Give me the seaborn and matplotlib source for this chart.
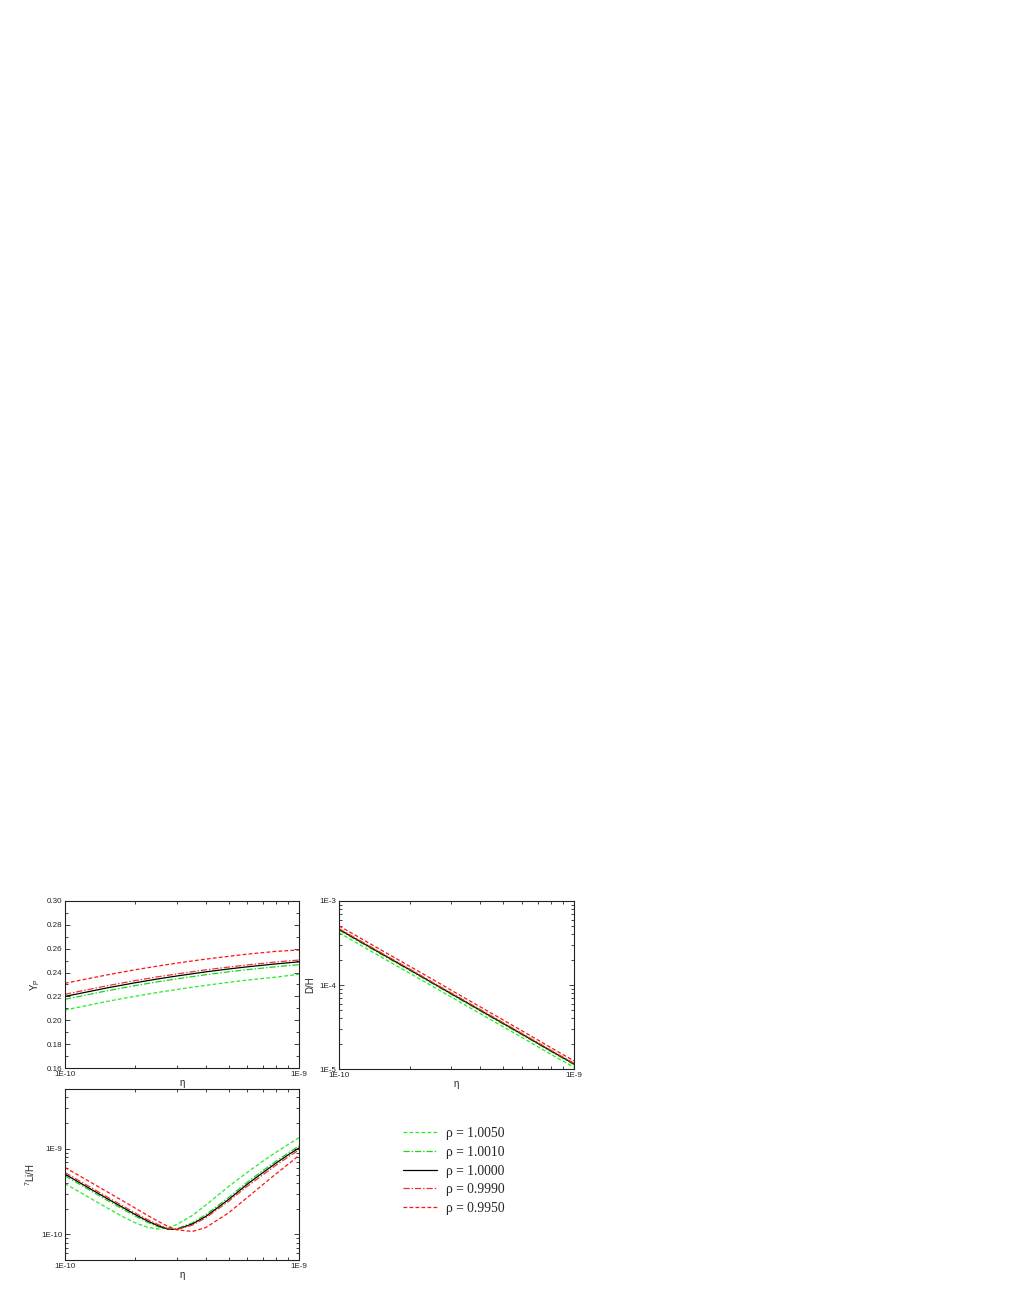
import numpy as np
import pandas as pd
import matplotlib
matplotlib.use("Agg")
import matplotlib.pyplot as plt
import matplotlib.ticker as mticker
import seaborn as sns

# ==============================
# DATA
# ==============================

rho_labels = ["ρ = 1.0050", "ρ = 1.0010", "ρ = 1.0000", "ρ = 0.9990", "ρ = 0.9950"]

eta = [1e-10, 1.5e-10, 2e-10, 2.5e-10, 3e-10, 4e-10, 5e-10, 6e-10, 8e-10, 1e-9]

yp_1005 = [0.2086, 0.2157, 0.2202, 0.2234, 0.2258, 0.2293, 0.2318, 0.2337, 0.2362, 0.2386]
yp_1001 = [0.2176, 0.2246, 0.2291, 0.2323, 0.2347, 0.2382, 0.2406, 0.2424, 0.2449, 0.2466]
yp_1000 = [0.2200, 0.2270, 0.2315, 0.2347, 0.2371, 0.2406, 0.2430, 0.2448, 0.2473, 0.2490]
yp_0999 = [0.2218, 0.2288, 0.2333, 0.2365, 0.2388, 0.2423, 0.2446, 0.2464, 0.2489, 0.2505]
yp_0995 = [0.2310, 0.2379, 0.2424, 0.2455, 0.2479, 0.2513, 0.2536, 0.2554, 0.2578, 0.2589]

dh_1005 = [4.19e-4, 2.18e-4, 1.38e-4, 9.65e-5, 7.20e-5, 4.54e-5, 3.18e-5, 2.38e-5, 1.49e-5, 1.05e-5]
dh_1001 = [4.51e-4, 2.35e-4, 1.49e-4, 1.04e-4, 7.75e-5, 4.89e-5, 3.42e-5, 2.56e-5, 1.61e-5, 1.13e-5]
dh_1000 = [4.60e-4, 2.40e-4, 1.52e-4, 1.06e-4, 7.91e-5, 4.99e-5, 3.49e-5, 2.61e-5, 1.64e-5, 1.15e-5]
dh_0999 = [4.69e-4, 2.45e-4, 1.55e-4, 1.08e-4, 8.07e-5, 5.09e-5, 3.56e-5, 2.66e-5, 1.67e-5, 1.17e-5]
dh_0995 = [5.06e-4, 2.64e-4, 1.67e-4, 1.17e-4, 8.69e-5, 5.48e-5, 3.83e-5, 2.86e-5, 1.79e-5, 1.25e-5]

eta_li = [1e-10, 1.25e-10, 1.5e-10, 1.75e-10, 2e-10, 2.25e-10, 2.5e-10, 2.75e-10, 3e-10,
          3.5e-10, 4e-10, 5e-10, 6e-10, 7e-10, 8e-10, 9e-10, 1e-9]

li_1005 = [3.92e-10, 2.75e-10, 2.07e-10, 1.63e-10, 1.36e-10, 1.21e-10, 1.155e-10, 1.19e-10, 1.30e-10,
           1.66e-10, 2.20e-10, 3.62e-10, 5.28e-10, 7.15e-10, 9.15e-10, 1.125e-9, 1.35e-9]
li_1001 = [4.83e-10, 3.39e-10, 2.54e-10, 2.00e-10, 1.63e-10, 1.385e-10, 1.23e-10, 1.15e-10, 1.16e-10,
           1.36e-10, 1.70e-10, 2.69e-10, 4.05e-10, 5.55e-10, 7.21e-10, 8.97e-10, 1.076e-9]
li_1000 = [5.06e-10, 3.55e-10, 2.66e-10, 2.09e-10, 1.70e-10, 1.435e-10, 1.26e-10, 1.15e-10, 1.14e-10,
           1.32e-10, 1.62e-10, 2.55e-10, 3.84e-10, 5.25e-10, 6.84e-10, 8.51e-10, 1.023e-9]
li_0999 = [5.28e-10, 3.71e-10, 2.78e-10, 2.18e-10, 1.77e-10, 1.49e-10, 1.30e-10, 1.17e-10, 1.135e-10,
           1.28e-10, 1.56e-10, 2.43e-10, 3.63e-10, 4.95e-10, 6.46e-10, 8.04e-10, 9.70e-10]
li_0995 = [6.05e-10, 4.26e-10, 3.19e-10, 2.50e-10, 2.02e-10, 1.67e-10, 1.42e-10, 1.24e-10, 1.13e-10,
           1.08e-10, 1.20e-10, 1.78e-10, 2.68e-10, 3.80e-10, 5.13e-10, 6.61e-10, 8.36e-10]

# ==============================
# STYLE
# ==============================

sns.set_style("ticks")
plt.rcParams["font.family"] = ["Liberation Sans", "DejaVu Sans"]
plt.rcParams["mathtext.fontset"] = "custom"
plt.rcParams["mathtext.rm"] = "Liberation Sans"
plt.rcParams["mathtext.it"] = "Liberation Sans"

line_colors = {
    rho_labels[0]: "#22ee22",
    rho_labels[1]: "#11dd11",
    rho_labels[2]: "black",
    rho_labels[3]: "#ee3333",
    rho_labels[4]: "#ff1111",
}
line_dashes = {
    rho_labels[0]: (3, 1.8),
    rho_labels[1]: (5, 1.5, 1.2, 1.5),
    rho_labels[2]: "",
    rho_labels[3]: (5, 1.5, 1.2, 1.5),
    rho_labels[4]: (3, 1.8),
}


def long_table(x, series):
    frames = []
    for lab, vals in zip(rho_labels, series):
        frames.append(pd.DataFrame({"eta": x, "val": vals, "rho": lab}))
    return pd.concat(frames, ignore_index=True)


def style_axis(ax, xlabel, ylabel):
    ax.set_xscale("log")
    ax.set_xlim(1e-10, 1e-9)
    ax.xaxis.set_major_locator(mticker.FixedLocator([1e-10, 1e-9]))
    ax.xaxis.set_major_formatter(mticker.FixedFormatter(["1E-10", "1E-9"]))
    ax.xaxis.set_minor_locator(mticker.LogLocator(base=10, subs=np.arange(2, 10)))
    ax.xaxis.set_minor_formatter(mticker.NullFormatter())
    ax.tick_params(which="both", direction="in", top=True, right=True,
                   labelsize=5.8, width=0.6, colors="#222222", pad=2)
    ax.tick_params(which="major", length=3.5)
    ax.tick_params(which="minor", length=2)
    for sp in ax.spines.values():
        sp.set_linewidth(0.8)
        sp.set_color("#222222")
    ax.set_xlabel(xlabel, fontsize=7, labelpad=0)
    ax.set_ylabel(ylabel, fontsize=7, labelpad=3)


def log_y_ticks(ax, majors, labels):
    ax.set_yscale("log")
    ax.yaxis.set_major_locator(mticker.FixedLocator(majors))
    ax.yaxis.set_major_formatter(mticker.FixedFormatter(labels))
    ax.yaxis.set_minor_locator(mticker.LogLocator(base=10, subs=np.arange(2, 10)))
    ax.yaxis.set_minor_formatter(mticker.NullFormatter())


# ==============================
# FIGURE
# ==============================

fig = plt.figure(figsize=(10.12, 13.09), dpi=100)

ax_yp = fig.add_axes([0.0642, 0.1841, 0.2312, 0.1276])
ax_dh = fig.add_axes([0.3350, 0.1833, 0.2322, 0.1284])
ax_li = fig.add_axes([0.0642, 0.0374, 0.2312, 0.1306])

panels = [
    (ax_yp, eta, [yp_1005, yp_1001, yp_1000, yp_0999, yp_0995]),
    (ax_dh, eta, [dh_1005, dh_1001, dh_1000, dh_0999, dh_0995]),
    (ax_li, eta_li, [li_1005, li_1001, li_1000, li_0999, li_0995]),
]

for ax, x, series in panels:
    df = long_table(x, series)
    sns.lineplot(data=df, x="eta", y="val", hue="rho", style="rho",
                 palette=line_colors, dashes=line_dashes, hue_order=rho_labels,
                 style_order=rho_labels, linewidth=0.9, legend=False,
                 sort=False, estimator=None, ax=ax)

# Yp panel
style_axis(ax_yp, "η", r"Y$_P$")
ax_yp.set_ylim(0.16, 0.30)
ax_yp.yaxis.set_major_locator(mticker.MultipleLocator(0.02))
ax_yp.yaxis.set_minor_locator(mticker.MultipleLocator(0.01))
ax_yp.yaxis.set_major_formatter(mticker.FormatStrFormatter("%.2f"))

# D/H panel
style_axis(ax_dh, "η", "D/H")
log_y_ticks(ax_dh, [1e-5, 1e-4, 1e-3], ["1E-5", "1E-4", "1E-3"])
ax_dh.set_ylim(1e-5, 1e-3)

# Li/H panel
style_axis(ax_li, "η", r"$^7$Li/H")
log_y_ticks(ax_li, [1e-10, 1e-9], ["1E-10", "1E-9"])
ax_li.set_ylim(5e-11, 5e-9)

# legend
handles = ax_li.get_lines()[:5]
fig.legend(handles, rho_labels, loc="center left", bbox_to_anchor=(0.398, 0.1054),
           frameon=False, borderpad=0, borderaxespad=0, handlelength=2.5,
           handletextpad=0.7, labelspacing=0.42,
           prop={"family": ["Liberation Serif", "DejaVu Serif"], "size": 9.8})

plt.savefig("out.png", dpi=100)
